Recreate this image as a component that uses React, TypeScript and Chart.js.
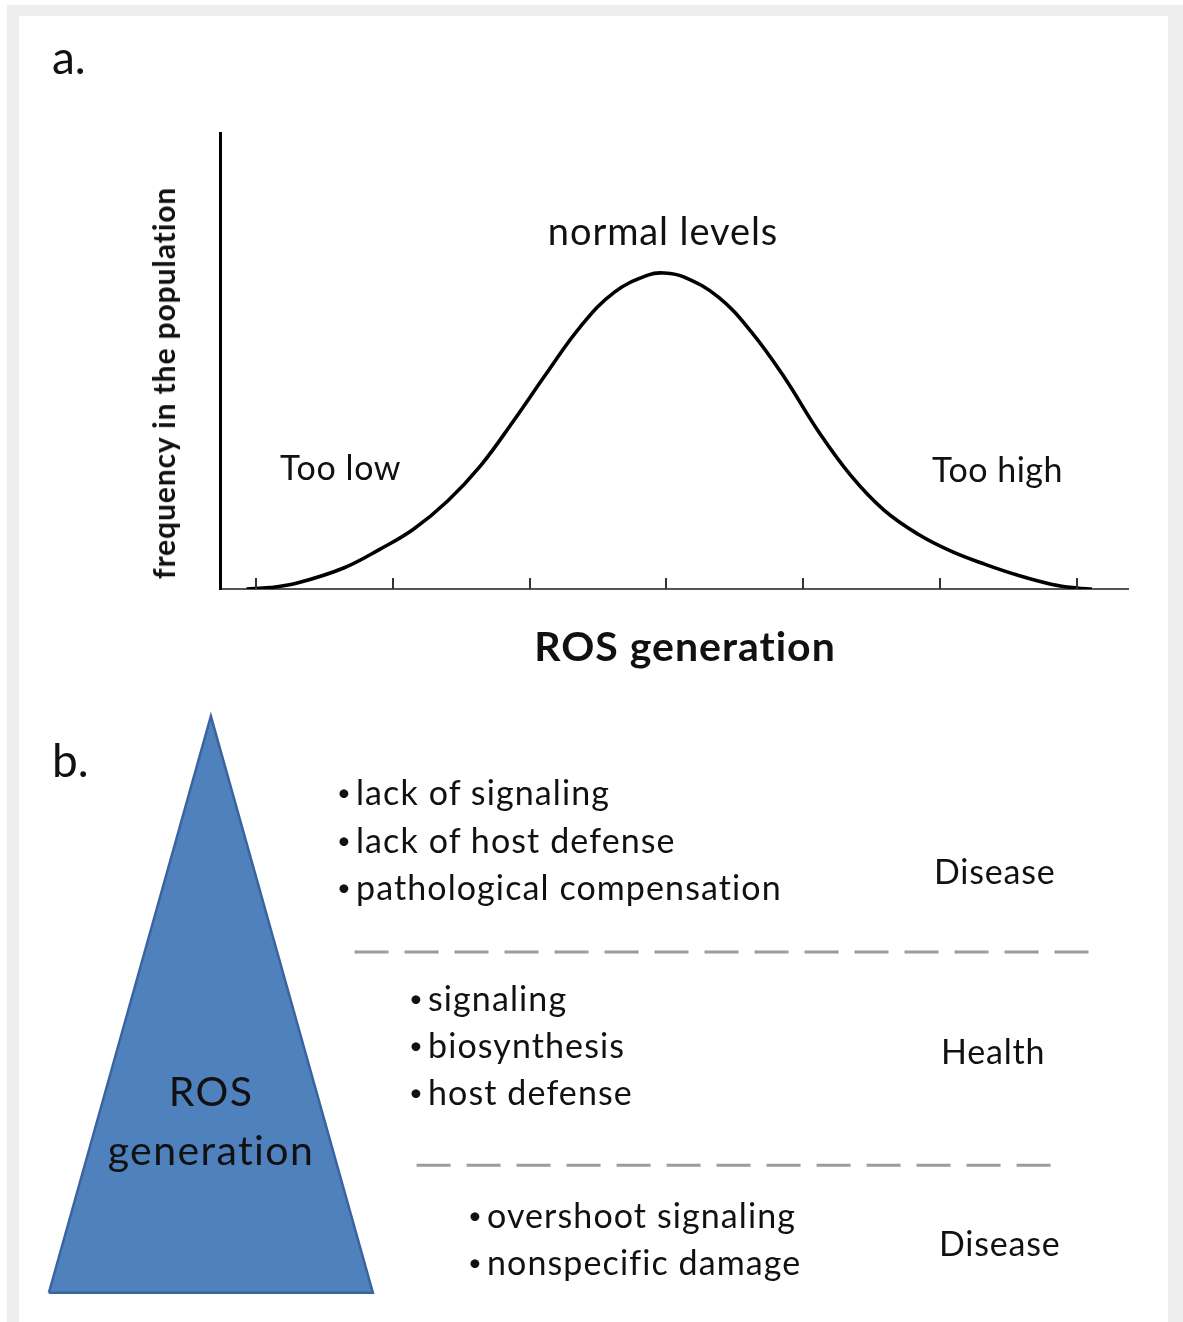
import React, { useEffect, useRef } from "react";
import { Chart, registerables } from "chart.js";

Chart.register(...registerables);

// ---------- Data ----------
// Panel a: ROS generation (x, arbitrary units; ticks at 0..6) vs frequency (0..100)
const curveX = [-0.07, 0.1, 0.3, 0.64, 0.91, 1.15, 1.4, 1.64, 1.88, 2.13, 2.37, 2.62, 2.87, 2.98, 3.13, 3.38, 3.62, 3.86, 4.11, 4.35, 4.59, 4.84, 5.08, 5.33, 5.57, 5.82, 6.0, 6.11];
const curveY = [0, 0.3, 1.3, 4.6, 8.8, 13.1, 19.3, 27.0, 36.8, 47.6, 57.5, 65.1, 68.9, 69.3, 68.4, 64.0, 56.4, 46.5, 34.6, 24.8, 17.3, 12.0, 8.3, 5.4, 3.0, 1.0, 0.2, 0];
const tickValues = [0, 1, 2, 3, 4, 5, 6];
const xRange = [-0.264, 6.374];
const yRange = [0, 100];

const panelATexts = ["a.", "normal levels", "Too low", "Too high"];
const xTitle = "ROS generation";
const yTitle = "frequency in the population";

// Panel b: pyramid and level separators (diagram units 0..100)
const pyramidX = [2.6, 16.7, 30.8, 2.6];
const pyramidY = [4.7, 97.4, 4.7, 4.7];
const sep1X = [29.2, 93.2];
const sep1Y = [59.5, 59.5];
const sep2X = [34.6, 89.9];
const sep2Y = [25.2, 25.2];

const lowItems = ["lack of signaling", "lack of host defense", "pathological compensation"];
const normalItems = ["signaling", "biosynthesis", "host defense"];
const highItems = ["overshoot signaling", "nonspecific damage"];
const outcomes = ["Disease", "Health", "Disease"];
const pyramidLabel = ["ROS", "generation"];

const FONT = "Lato, 'Open Sans', sans-serif";
const TXT = "#111";

const tickMarks = {
  id: "tickMarks",
  afterDraw(chart: any) {
    const { ctx, scales } = chart;
    const xs = scales.x;
    const yb = chart.chartArea.bottom;
    ctx.save();
    ctx.strokeStyle = "#333";
    ctx.lineWidth = 2;
    tickValues.forEach((v) => {
      const px = Math.round(xs.getPixelForValue(v));
      ctx.beginPath();
      ctx.moveTo(px, yb - 11);
      ctx.lineTo(px, yb);
      ctx.stroke();
    });
    ctx.restore();
  },
};

function PanelA() {
  const ref = useRef<HTMLCanvasElement>(null);
  useEffect(() => {
    if (!ref.current) return;
    const chart = new Chart(ref.current, {
      type: "line",
      data: {
        datasets: [
          {
            data: curveX.map((x, i) => ({ x, y: curveY[i] })),
            borderColor: "#000",
            borderWidth: 3.6,
            pointRadius: 0,
            tension: 0.4,
            fill: false,
          },
        ],
      },
      options: {
        responsive: false,
        animation: false,
        events: [],
        layout: { padding: { left: 220, right: 1183 - 1128, top: 133, bottom: 700 - 589 } },
        plugins: { legend: { display: false }, tooltip: { enabled: false } },
        scales: {
          x: {
            type: "linear",
            min: xRange[0],
            max: xRange[1],
            border: { display: true, color: "#555", width: 2 },
            grid: { display: false, drawTicks: false },
            ticks: { display: false },
          },
          y: {
            min: yRange[0],
            max: yRange[1],
            border: { display: true, color: "#000", width: 3 },
            grid: { display: false, drawTicks: false },
            ticks: { display: false },
          },
        },
      },
      plugins: [tickMarks],
    } as any);
    return () => chart.destroy();
  }, []);
  return <canvas ref={ref} width={1183} height={700} style={{ position: "absolute", left: 0, top: 0 }} />;
}

function PanelB() {
  const ref = useRef<HTMLCanvasElement>(null);
  useEffect(() => {
    if (!ref.current) return;
    const dash = {
      borderColor: "#9c9c9c",
      borderWidth: 3,
      borderDash: [34, 16],
      pointRadius: 0,
      showLine: true,
      fill: false,
    };
    const chart = new Chart(ref.current, {
      type: "scatter",
      data: {
        datasets: [
          {
            data: pyramidX.map((x, i) => ({ x, y: pyramidY[i] })),
            showLine: true,
            fill: "shape",
            backgroundColor: "#4f81bd",
            borderColor: "#3a64a0",
            borderWidth: 2.5,
            pointRadius: 0,
            tension: 0,
          },
          { ...dash, data: sep1X.map((x, i) => ({ x, y: sep1Y[i] })) },
          { ...dash, data: sep2X.map((x, i) => ({ x, y: sep2Y[i] })) },
        ],
      },
      options: {
        responsive: false,
        animation: false,
        events: [],
        layout: { padding: 0 },
        plugins: { legend: { display: false }, tooltip: { enabled: false } },
        scales: {
          x: { type: "linear", min: 0, max: 100, display: false },
          y: { type: "linear", min: 0, max: 100, display: false },
        },
      },
    } as any);
    return () => chart.destroy();
  }, []);
  return <canvas ref={ref} width={1149} height={622} style={{ position: "absolute", left: 19, top: 700 }} />;
}

type LP = { x: number; y: number; size: number; text: string; weight?: number; center?: boolean; rotate?: boolean; ls?: number };
function Label({ x, y, size, text, weight = 400, center = false, rotate = false, ls = 0 }: LP) {
  const tx = center || rotate ? "-50%" : "0";
  return (
    <div
      style={{
        position: "absolute",
        left: x,
        top: y,
        transform: `translate(${tx}, -50%)${rotate ? " rotate(-90deg)" : ""}`,
        fontFamily: FONT,
        fontSize: size,
        fontWeight: weight,
        letterSpacing: ls,
        color: TXT,
        whiteSpace: "nowrap",
        lineHeight: 1.2,
      }}
    >
      {text}
    </div>
  );
}

function Bullets({ items, x, y0, step, size, ls }: { items: string[]; x: number; y0: number; step: number; size: number; ls: number }) {
  return (
    <>
      {items.map((t, i) => (
        <div
          key={i}
          style={{
            position: "absolute",
            left: x,
            top: y0 + i * step,
            transform: "translateY(-50%)",
            fontFamily: FONT,
            fontSize: size,
            color: TXT,
            whiteSpace: "nowrap",
            lineHeight: 1.2,
            display: "flex",
            alignItems: "center",
          }}
        >
          <span style={{ display: "inline-block", width: 19, fontSize: size * 0.7 }}>•</span>
          <span style={{ letterSpacing: ls }}>{t}</span>
        </div>
      ))}
    </>
  );
}

export default function App() {
  return (
    <div style={{ position: "absolute", left: 0, top: 0, width: 1183, height: 1322, background: "#fff", overflow: "hidden" }}>
      <div style={{ position: "absolute", left: 7, top: 5, right: 0, bottom: 0, background: "#eeeeee" }} />
      <div style={{ position: "absolute", left: 19, top: 16, width: 1149, height: 1306, background: "#fff" }} />
      <PanelA />
      <PanelB />
      <Label x={52} y={57} size={46} text={panelATexts[0]} />
      <Label x={663} y={231} size={38} ls={0.9} text={panelATexts[1]} center />
      <Label x={280} y={467} size={34} ls={0.6} text={panelATexts[2]} />
      <Label x={932} y={469} size={34} ls={0.5} text={panelATexts[3]} />
      <Label x={163} y={383} size={30} ls={0.9} weight={700} text={yTitle} rotate />
      <Label x={685} y={646} size={41} ls={1} weight={700} text={xTitle} center />
      <Label x={52} y={760} size={46} text="b." />
      <Label x={211} y={1091} size={41} ls={1.4} text={pyramidLabel[0]} center />
      <Label x={211} y={1150} size={41} ls={1.4} text={pyramidLabel[1]} center />
      <Bullets items={lowItems} x={337} y0={792} step={47.5} size={34} ls={1.1} />
      <Bullets items={normalItems} x={409} y0={998} step={47} size={34} ls={1.1} />
      <Bullets items={highItems} x={468} y0={1215} step={47} size={34} ls={1.1} />
      <Label x={934} y={871} size={34} ls={0.8} text={outcomes[0]} />
      <Label x={941} y={1051} size={34} ls={0.8} text={outcomes[1]} />
      <Label x={939} y={1243} size={34} ls={0.8} text={outcomes[2]} />
    </div>
  );
}
